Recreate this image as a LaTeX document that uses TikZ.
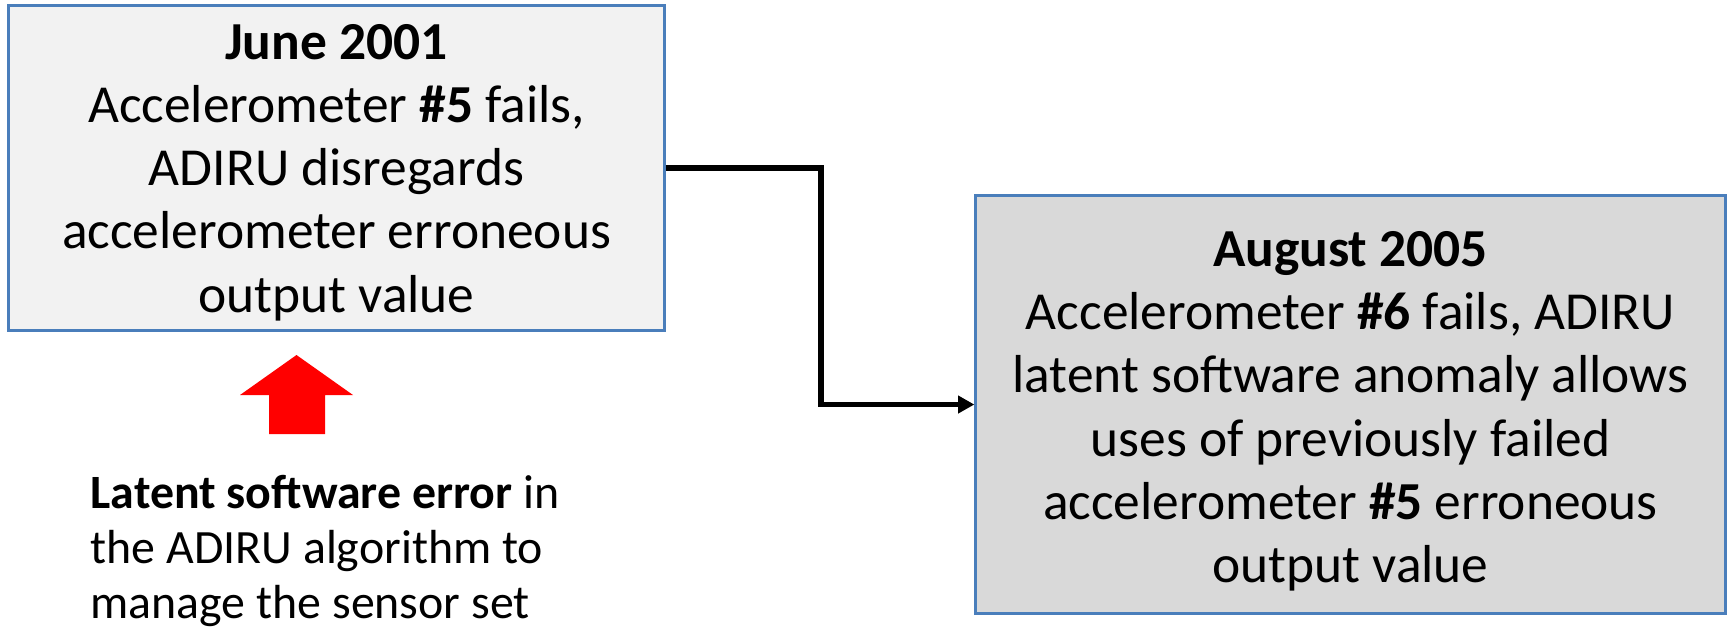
\documentclass[tikz,border=0pt]{standalone}
\usepackage{fontspec}
\setmainfont{Carlito}
\usetikzlibrary{arrows.meta}
\definecolor{boxline}{RGB}{74,126,187}
\definecolor{fillA}{RGB}{242,242,242}
\definecolor{fillB}{RGB}{217,217,217}
\definecolor{arrowred}{RGB}{255,0,0}
\tikzset{
  eventbox/.style={draw=boxline, line width=0.8pt, rectangle, inner sep=0pt},
  boxtext/.style={align=center, inner sep=0pt, font=\fontsize{15.2}{18}\selectfont},
  notetext/.style={align=left, inner sep=0pt, font=\fontsize{13.6}{15.6}\selectfont},
  flow/.style={line width=1.5pt, -{Triangle[length=4.6pt,width=4.8pt]}},
}
\begin{document}
\begin{tikzpicture}[x=0.01cm,y=-0.01cm]
\useasboundingbox (0,0) rectangle (1727,629);
\node[eventbox, fill=fillA, minimum width=6.55cm, minimum height=3.25cm] (june) at (336.5,168) {};
\node[boxtext] (junetext) at ([yshift=-1.25pt]june.center)
  {\textbf{June 2001}\\Accelerometer \textbf{\#5} fails,\\ADIRU disregards\\accelerometer erroneous\\output value};
\node[eventbox, fill=fillB, minimum width=7.49cm, minimum height=4.17cm] (aug) at (1350.5,404.5) {};
\node[boxtext] (augtext) at ([yshift=-1.9pt]aug.center)
  {\textbf{August 2005}\\Accelerometer \textbf{\#6} fails, ADIRU\\latent software anomaly allows\\uses of previously failed\\accelerometer \textbf{\#5} erroneous\\output value};
\coordinate (bend) at (821,0);
\draw[flow] (june.east) -- (june.east -| bend) -- (aug.west -| bend) -- (aug.west);
\fill[arrowred] (296.5,355) -- (353,395) -- (325,395) -- (325,434) -- (269,434) -- (269,395) -- (240,395) -- cycle;
\node[notetext, anchor=west] (note) at (90,551)
  {\textbf{Latent software error} in\\the ADIRU algorithm to\\manage the sensor set};
\end{tikzpicture}
\end{document}
